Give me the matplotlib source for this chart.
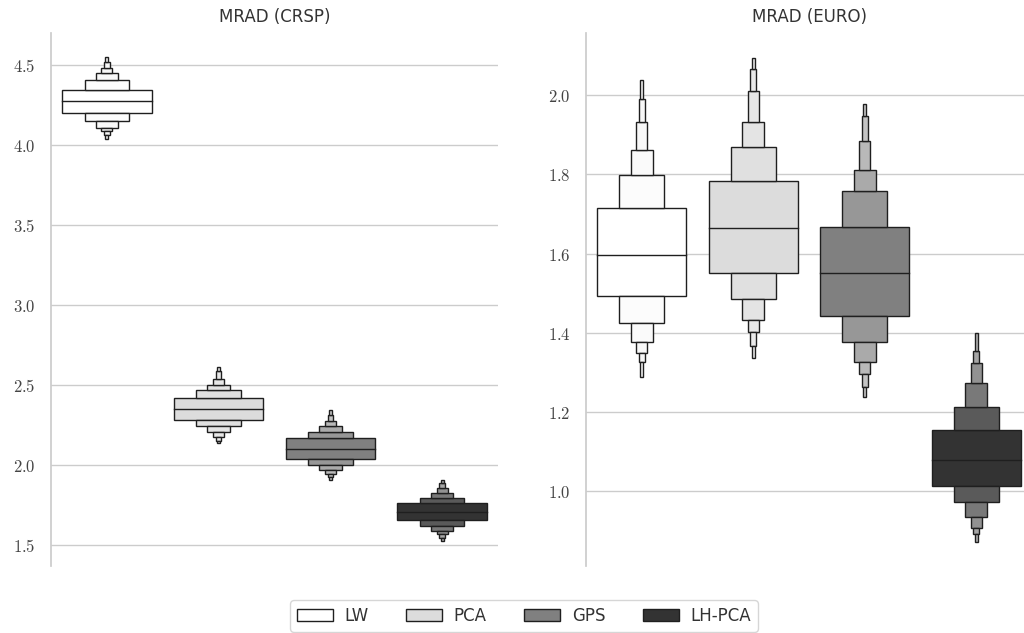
import matplotlib
matplotlib.use("Agg")
import matplotlib.pyplot as plt
import numpy as np
from matplotlib.patches import Patch
from matplotlib.ticker import FuncFormatter, MultipleLocator

plt.rcParams["mathtext.fontset"] = "cm"

methods = ["LW", "PCA", "GPS", "LH-PCA"]
base_colors = ["#ffffff", "#dcdcdc", "#808080", "#333333"]

# letter values, level 0 = quartiles, going outwards
crsp_median = [4.277, 2.350, 2.102, 1.708]
crsp_upper = [
    [4.344, 4.406, 4.450, 4.481, 4.519, 4.548],
    [2.419, 2.467, 2.500, 2.537, 2.586, 2.612],
    [2.167, 2.206, 2.246, 2.275, 2.312, 2.342],
    [1.760, 1.796, 1.827, 1.856, 1.886, 1.905],
]
crsp_lower = [
    [4.200, 4.150, 4.106, 4.086, 4.063, 4.036],
    [2.279, 2.242, 2.204, 2.173, 2.152, 2.139],
    [2.039, 2.002, 1.969, 1.944, 1.927, 1.905],
    [1.658, 1.621, 1.589, 1.567, 1.545, 1.527],
]

euro_median = [1.596, 1.665, 1.551, 1.077]
euro_upper = [
    [1.714, 1.798, 1.862, 1.932, 1.991, 2.039],
    [1.783, 1.870, 1.932, 2.011, 2.066, 2.095],
    [1.667, 1.758, 1.810, 1.885, 1.948, 1.979],
    [1.154, 1.212, 1.272, 1.324, 1.353, 1.398],
]
euro_lower = [
    [1.493, 1.425, 1.377, 1.349, 1.326, 1.288],
    [1.551, 1.485, 1.432, 1.401, 1.365, 1.336],
    [1.443, 1.377, 1.327, 1.295, 1.262, 1.236],
    [1.011, 0.972, 0.933, 0.905, 0.891, 0.871],
]

edge = (0.12, 0.12, 0.12)
light = np.array([241, 241, 241]) / 255


def level_color(base, i):
    rgb = np.array(matplotlib.colors.to_rgb(base))
    t = 2 ** (-i / 3)
    return light + t * (rgb - light)


def boxen(ax, medians, uppers, lowers, width=0.8):
    for j in range(len(methods)):
        up, lo = uppers[j], lowers[j]
        for i in range(len(up)):
            w = width * 0.5 ** i
            c = level_color(base_colors[j], i)
            kw = dict(width=w, color=c, edgecolor=edge, linewidth=1.0, zorder=3)
            if i == 0:
                ax.bar(j, up[0] - lo[0], bottom=lo[0], **kw)
            else:
                ax.bar(j, up[i] - up[i - 1], bottom=up[i - 1], **kw)
                ax.bar(j, lo[i - 1] - lo[i], bottom=lo[i], **kw)
        ax.plot([j - width / 2, j + width / 2], [medians[j]] * 2,
                color=edge, linewidth=1.0, zorder=4)


def style(ax, title, ylim, step):
    ax.set_xlim(-0.5, 3.5)
    ax.set_ylim(*ylim)
    ax.yaxis.set_major_locator(MultipleLocator(step))
    ax.yaxis.set_major_formatter(FuncFormatter(lambda v, p: f"${v:.1f}$"))
    ax.set_xticks([])
    for s in ["top", "right", "bottom"]:
        ax.spines[s].set_visible(False)
    ax.spines["left"].set_color("#cccccc")
    ax.spines["left"].set_linewidth(1.25)
    ax.grid(axis="y", color="#cccccc", linewidth=1.0, zorder=0)
    ax.set_axisbelow(True)
    ax.tick_params(axis="y", length=0, pad=11, labelsize=12, labelcolor="#444444")
    ax.set_title(title, fontsize=12, color="#333333", pad=8)


fig = plt.figure(figsize=(10.24, 6.33), dpi=100)
ax1 = fig.add_axes([51 / 1024, 1 - 566 / 633, 447 / 1024, 533 / 633])
ax2 = fig.add_axes([586 / 1024, 1 - 566 / 633, 446 / 1024, 533 / 633])

boxen(ax1, crsp_median, crsp_upper, crsp_lower)
boxen(ax2, euro_median, euro_upper, euro_lower)
style(ax1, "MRAD (CRSP)", (1.369, 4.70), 0.5)
style(ax2, "MRAD (EURO)", (0.810, 2.1575), 0.2)

handles = [Patch(facecolor=c, edgecolor=edge, linewidth=1.0) for c in base_colors]
leg = fig.legend(handles, methods, loc="lower center", bbox_to_anchor=(524 / 1024, 0.002),
                 ncol=4, fontsize=12, handlelength=2.15, handletextpad=0.7,
                 columnspacing=2.25, borderaxespad=0, frameon=True)
leg.get_frame().set_edgecolor("#cccccc")
for t in leg.get_texts():
    t.set_color("#333333")

fig.savefig("out.png", dpi=100)
